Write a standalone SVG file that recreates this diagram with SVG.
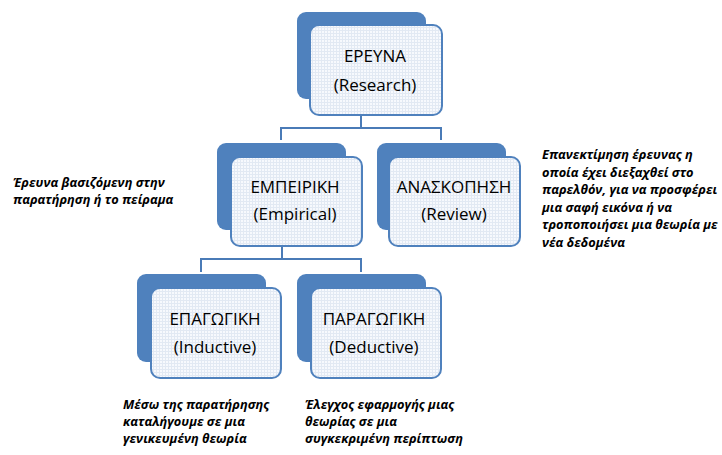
<svg xmlns="http://www.w3.org/2000/svg" width="722" height="455" viewBox="0 0 722 455">
  <defs>
    <!-- faint woven texture for the front cards -->
    <pattern id="weave" width="3" height="3" patternUnits="userSpaceOnUse">
      <rect width="3" height="3" fill="#f7f9fd"/>
      <path d="M0 0.5H3M0.5 0V3" stroke="#e2e9f3" stroke-width="1"/>
    </pattern>
  </defs>
  <style>
    .back { fill: #4f81bd; }
    .front { fill: url(#weave); stroke: #4f81bd; stroke-width: 2; }
    .label { font-family: "Open Sans", "Noto Sans", "DejaVu Sans", sans-serif; font-size: 17px; fill: #000; text-anchor: middle; }
    .note { font-family: "Open Sans", "Noto Sans", "DejaVu Sans", sans-serif; font-size: 12.8px; font-weight: bold; font-style: italic; fill: #000; }
    .link { fill: none; stroke: #4a7bb7; stroke-width: 2; }
  </style>
  <rect width="722" height="455" fill="#ffffff"/>

  <g id="connectors">
    <path class="link" d="M361 115V128M281 140V128H441V140"/>
    <path class="link" d="M282 246V259M201 272V259H361V272"/>
  </g>

  <g id="research">
    <rect class="back" x="297" y="12" width="129" height="87" rx="9"/>
    <rect class="front" x="310" y="25" width="132" height="90" rx="9"/>
    <text class="label" x="375" y="62">ΕΡΕΥΝΑ</text>
    <text class="label" x="375" y="91">(Research)</text>
  </g>

  <g id="empirical">
    <rect class="back" x="217" y="143" width="129" height="87" rx="9"/>
    <rect class="front" x="231" y="157" width="131" height="89" rx="9"/>
    <text class="label" x="295" y="193">ΕΜΠΕΙΡΙΚΗ</text>
    <text class="label" x="295" y="220">(Empirical)</text>
  </g>

  <g id="review">
    <rect class="back" x="377" y="143" width="129" height="87" rx="9"/>
    <rect class="front" x="389" y="157" width="131" height="89" rx="9"/>
    <text class="label" x="454" y="193">ΑΝΑΣΚΟΠΗΣΗ</text>
    <text class="label" x="454" y="220">(Review)</text>
  </g>

  <g id="inductive">
    <rect class="back" x="137" y="274" width="129" height="88" rx="9"/>
    <rect class="front" x="151" y="288" width="130" height="90" rx="9"/>
    <text class="label" x="215" y="325">ΕΠΑΓΩΓΙΚΗ</text>
    <text class="label" x="215" y="353">(Inductive)</text>
  </g>

  <g id="deductive">
    <rect class="back" x="297" y="274" width="129" height="88" rx="9"/>
    <rect class="front" x="311" y="288" width="130" height="90" rx="9"/>
    <text class="label" x="374" y="325">ΠΑΡΑΓΩΓΙΚΗ</text>
    <text class="label" x="374" y="353">(Deductive)</text>
  </g>

  <g id="note-empirical">
    <text class="note" x="13" y="187">Έρευνα βασιζόμενη στην</text>
    <text class="note" x="13" y="204">παρατήρηση ή το πείραμα</text>
  </g>

  <g id="note-review">
    <text class="note" x="542" y="159">Επανεκτίμηση έρευνας η</text>
    <text class="note" x="542" y="176.5">οποία έχει διεξαχθεί στο</text>
    <text class="note" x="542" y="194">παρελθόν, για να προσφέρει</text>
    <text class="note" x="542" y="211.5">μια σαφή εικόνα ή να</text>
    <text class="note" x="542" y="229">τροποποιήσει μια θεωρία με</text>
    <text class="note" x="542" y="246.5">νέα δεδομένα</text>
  </g>

  <g id="note-inductive">
    <text class="note" x="123" y="409">Μέσω της παρατήρησης</text>
    <text class="note" x="123" y="426">καταλήγουμε σε μια</text>
    <text class="note" x="123" y="443">γενικευμένη θεωρία</text>
  </g>

  <g id="note-deductive">
    <text class="note" x="305" y="409">Έλεγχος εφαρμογής μιας</text>
    <text class="note" x="305" y="426">θεωρίας σε μια</text>
    <text class="note" x="305" y="443">συγκεκριμένη περίπτωση</text>
  </g>
</svg>
